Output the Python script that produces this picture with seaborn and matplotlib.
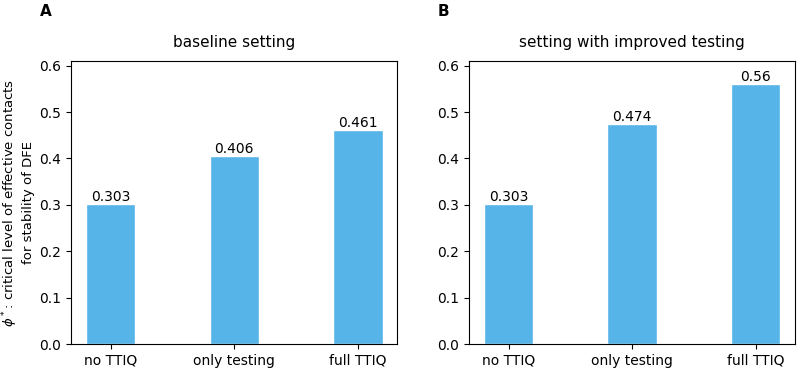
"""Critical contact levels for DFE stability"""

import matplotlib
matplotlib.use("Agg")
import matplotlib.pyplot as plt
import seaborn as sns
import pandas as pd

categories = ["no TTIQ", "only testing", "full TTIQ"]
baseline = [0.303, 0.406, 0.461]
improved = [0.303, 0.474, 0.56]
titles = ["baseline setting", "setting with improved testing"]
panel_labels = ["A", "B"]
bar_color = "#56B4E9"


def main() -> None:
    sns.set_style("ticks")
    plt.rcParams["font.family"] = ["DejaVu Sans"]
    for key in ["text.color", "axes.labelcolor", "xtick.color", "ytick.color", "axes.edgecolor"]:
        plt.rcParams[key] = "black"
    fig, axes = plt.subplots(1, 2, figsize=(8, 3.7), dpi=100)
    for ax, vals, title, lab in zip(axes, [baseline, improved], titles, panel_labels):
        df = pd.DataFrame({"setting": categories, "phi": vals})
        sns.barplot(data=df, x="setting", y="phi", color=bar_color, width=0.4,
                    saturation=1, ax=ax)
        for i, v in enumerate(vals):
            ax.text(i, v, f"{v:g}", ha="center", va="bottom", fontsize=10)
        ax.set_xlim(-0.32, 2.32)
        ax.set_ylim(0, 0.61)
        ax.set_title(title, fontsize=11, pad=10)
        ax.set_xlabel("")
        ax.set_ylabel("")
        ax.tick_params(labelsize=10)
        ax.text(-0.095, 1.2, lab, transform=ax.transAxes, fontsize=11,
                fontweight="bold", va="top")
    axes[0].set_ylabel(r"$\phi^*$: critical level of effective contacts" "\n" "for stability of DFE",
                       fontsize=9.5, labelpad=3)
    fig.subplots_adjust(left=0.089, right=0.994, bottom=0.07, top=0.835, wspace=0.22)
    fig.savefig("out.png")


if __name__ == "__main__":
    main()
